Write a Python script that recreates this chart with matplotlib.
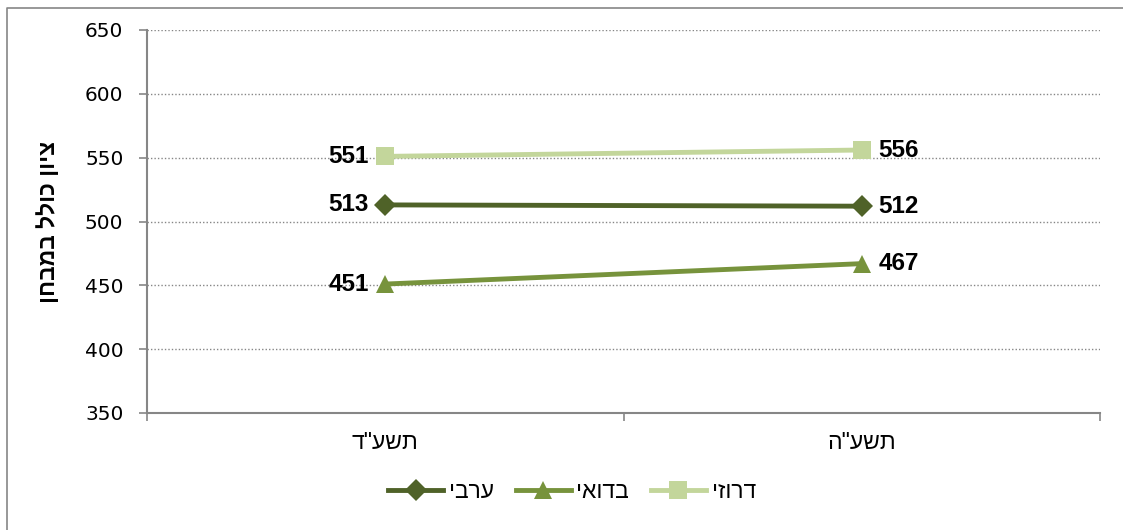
import matplotlib
matplotlib.use("Agg")
import matplotlib.pyplot as plt
from matplotlib.lines import Line2D

plt.rcParams['font.family'] = ['Liberation Sans']

def vis(s):
    # matplotlib has no bidi support: reverse Hebrew for visual order
    return s[::-1]

categories = ['תשע"ד', 'תשע"ה']
series_names = ['ערבי', 'בדואי', 'דרוזי']
arab = [513, 512]
bedouin = [451, 467]
druze = [551, 556]
y_label = 'ציון כולל במבחן'
y_ticks = [350, 400, 450, 500, 550, 600, 650]

colors = ['#4F6228', '#77933C', '#C3D69B']
markers = ['D', '^', 's']
msizes = [11, 13, 12.5]
values = [arab, bedouin, druze]

fig = plt.figure(figsize=(11.23, 5.30), dpi=100)
ax = fig.add_axes([147/1123, 1-413/530, (1100-147)/1123, (413-30)/530])

x = list(range(len(categories)))
handles = []
for vals, c, m, ms, name in zip(values, colors, markers, msizes, series_names):
    h, = ax.plot(x, vals, color=c, lw=3.5, marker=m, markersize=ms,
                 markeredgewidth=0, label=vis(name), zorder=3)
    handles.append(h)
    ax.annotate(str(vals[0]), (x[0], vals[0]), xytext=(-12, 0), textcoords='offset points',
                ha='right', va='center', fontsize=17.5, fontweight='bold', color='black')
    ax.annotate(str(vals[1]), (x[1], vals[1]), xytext=(12, 0), textcoords='offset points',
                ha='left', va='center', fontsize=17.5, fontweight='bold', color='black')

ax.set_xlim(-0.5, 1.5)
ax.set_ylim(350, 650)
ax.set_yticks(y_ticks)
ax.set_yticklabels([str(t) for t in y_ticks], fontsize=14.5, family='DejaVu Sans')
ax.set_xticks(x)
ax.set_xticklabels([vis(c) for c in categories], fontsize=16.5)
ax.tick_params(axis='x', length=0, pad=13)
ax.set_xticks([-0.5, 0.5, 1.5], minor=True)
ax.tick_params(axis='x', which='minor', length=6, color='#868686', width=1.2)
ax.tick_params(axis='y', length=6, color='#868686', width=1.2, pad=11)

for yv in y_ticks[1:]:
    ax.axhline(yv, color='#868686', lw=1, ls=(0, (1, 1.5)), zorder=1)

for s in ['top', 'right']:
    ax.spines[s].set_visible(False)
for s in ['left', 'bottom']:
    ax.spines[s].set_color('#868686')
    ax.spines[s].set_linewidth(1.5)

ax.set_ylabel(vis(y_label), fontsize=16.5, fontweight='bold', labelpad=18)

leg = fig.legend(handles=handles, loc='center', bbox_to_anchor=(572/1123, 1-492/530),
                 ncol=3, frameon=False, fontsize=16.5, handlelength=2.4,
                 columnspacing=0.95, handletextpad=0.25)

fig.add_artist(Line2D([7/1123, 7/1123, 1.0], [-0.01, 1 - 8/530, 1 - 8/530],
                      transform=fig.transFigure, color='#868686', lw=1.2))

fig.savefig('out.png', dpi=100)
